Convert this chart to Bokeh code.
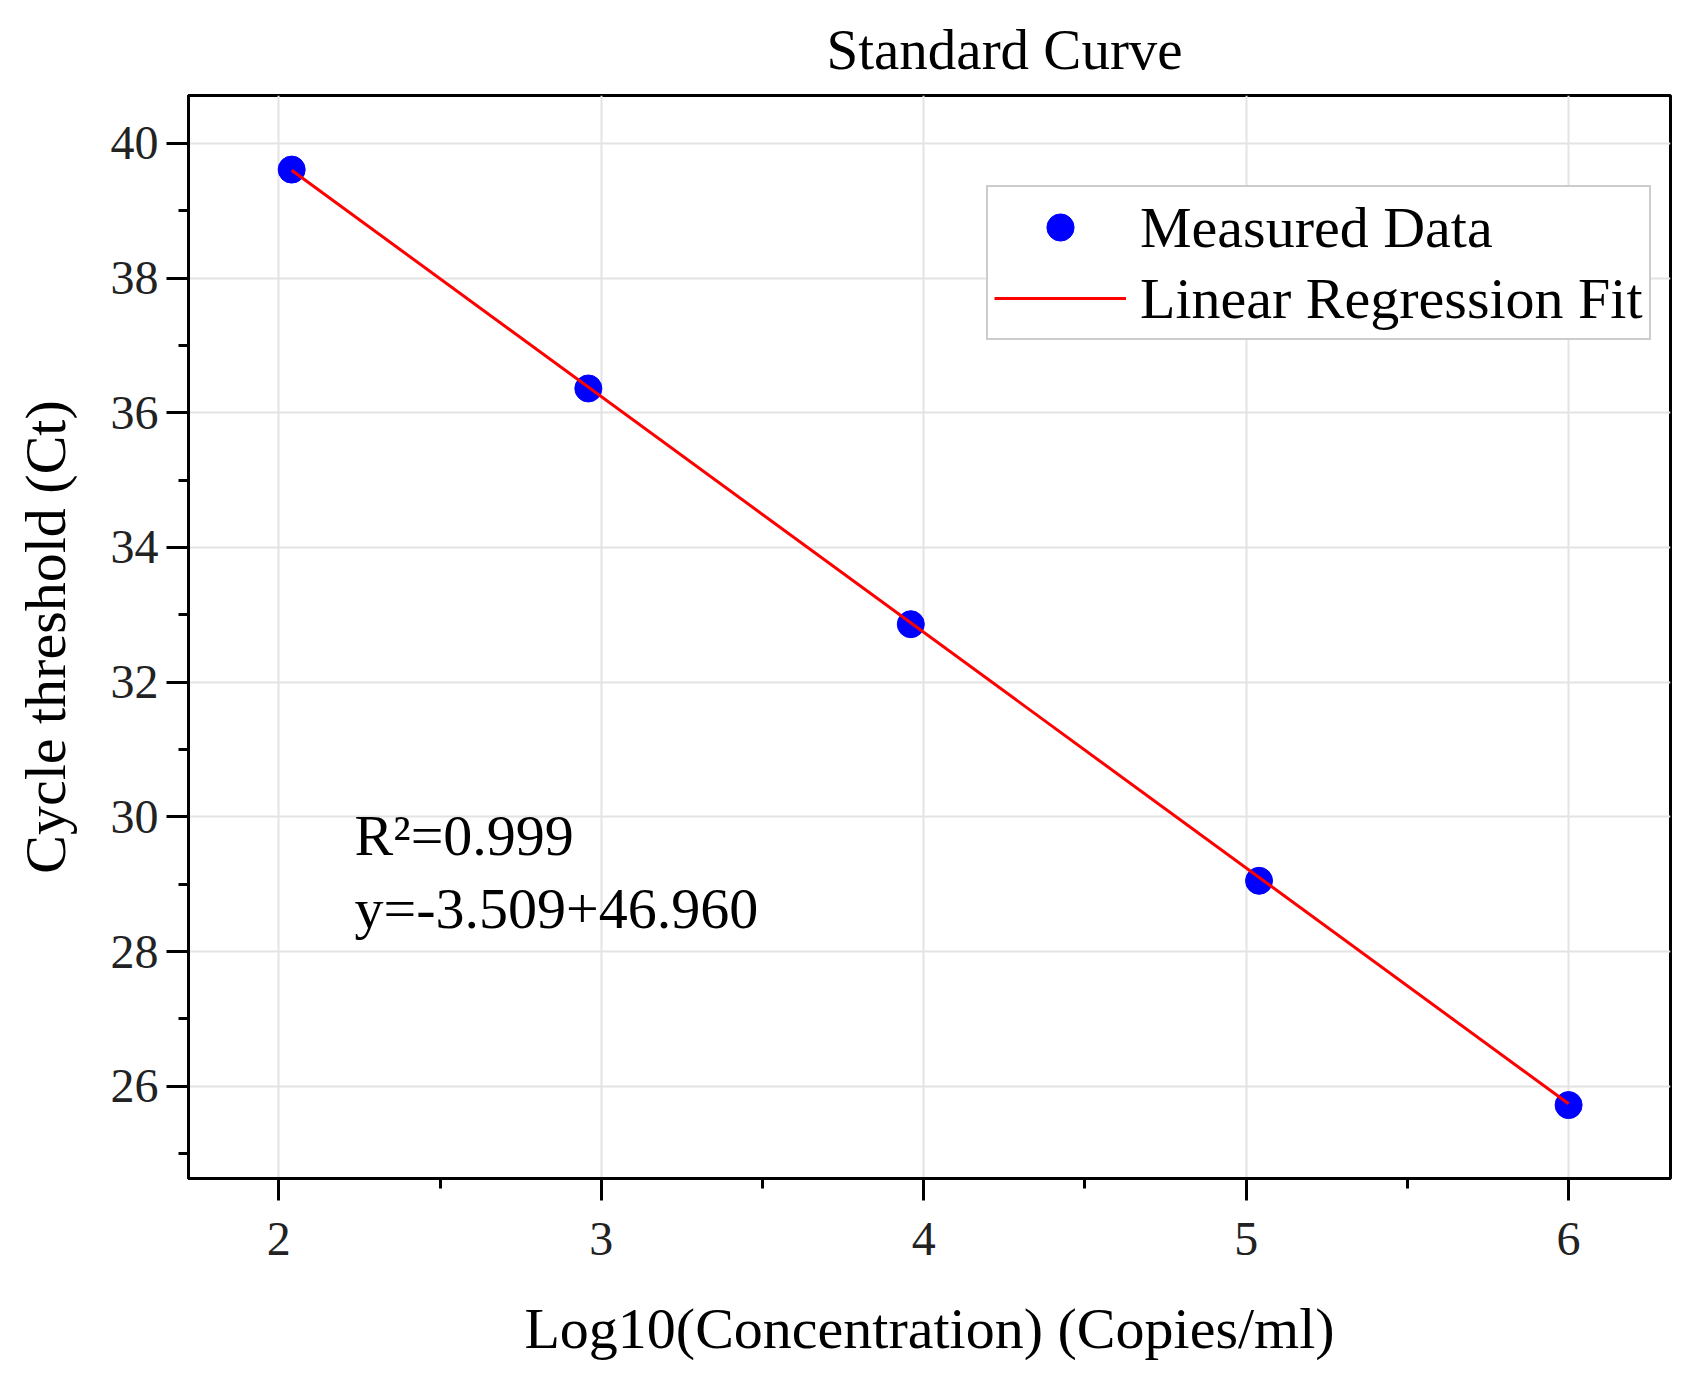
from bokeh.plotting import figure
from bokeh.models import Label, SingleIntervalTicker, Range1d, Legend, LegendItem
from bokeh.embed import file_html
from bokeh.resources import INLINE

# measured standard curve points
log_conc = [2.04, 2.96, 3.96, 5.04, 6.00]
ct_values = [39.61, 36.36, 32.86, 29.05, 25.72]

# regression line end points
fit_x = [2.04, 6.00]
fit_y = [39.60, 25.74]

r2_text = "R²=0.999"
eq_text = "y=-3.509+46.960"

FONT = "Liberation Serif"

p = figure(
    width=1687,
    height=1364,
    x_range=Range1d(1.72, 6.316),
    y_range=Range1d(24.63, 40.71),
    title="Standard Curve",
    toolbar_location=None,
    tools="",
    output_backend="svg",
    min_border_left=188,
    min_border_right=17,
    min_border_top=89,
    min_border_bottom=186,
)

p.title.text_font = FONT
p.title.text_font_size = "57px"
p.title.text_font_style = "normal"
p.title.text_color = "black"
p.title.align = "left"
p.title.offset = 638
p.title.standoff = 30

p.outline_line_color = "black"
p.outline_line_width = 3
p.outline_line_alpha = 1

p.xaxis.ticker = SingleIntervalTicker(interval=1, num_minor_ticks=2)
p.yaxis.ticker = SingleIntervalTicker(interval=2, num_minor_ticks=2)

for ax in (p.xaxis, p.yaxis):
    ax.axis_line_color = "black"
    ax.axis_line_width = 3
    ax.major_tick_line_color = "black"
    ax.major_tick_line_width = 3
    ax.minor_tick_line_color = "black"
    ax.minor_tick_line_width = 3
    ax.major_tick_in = 0
    ax.minor_tick_in = 0
    ax.major_tick_out = 22
    ax.minor_tick_out = 10
    ax.major_label_text_font = FONT
    ax.major_label_text_font_size = "48px"
    ax.major_label_text_color = "#222222"
    ax.axis_label_text_font = FONT
    ax.axis_label_text_font_size = "58px"
    ax.axis_label_text_font_style = "normal"
    ax.axis_label_text_color = "black"

p.xaxis.axis_label = "Log10(Concentration) (Copies/ml)"
p.yaxis.axis_label = "Cycle threshold (Ct)"
p.xaxis.major_label_standoff = 22
p.yaxis.major_label_standoff = 8
p.xaxis.axis_label_standoff = 38
p.yaxis.axis_label_standoff = 30

p.grid.grid_line_color = "#e3e3e3"
p.grid.grid_line_width = 2

dots = p.scatter(log_conc, ct_values, size=27, fill_color="#0000ff",
                 line_color="#0000ff")
fit = p.line(fit_x, fit_y, line_color="#ff0000", line_width=3)

legend = Legend(
    items=[
        LegendItem(label="Measured Data", renderers=[dots]),
        LegendItem(label="Linear Regression Fit", renderers=[fit]),
    ],
    location=(798, 838),
    label_text_font=FONT,
    label_text_font_size="58px",
    label_text_color="black",
    glyph_width=132,
    glyph_height=68,
    label_height=68,
    label_standoff=14,
    padding=6,
    spacing=3,
    margin=0,
    border_line_color="#999999",
    border_line_width=2,
    background_fill_alpha=1,
)
p.add_layout(legend)

p.add_layout(Label(x=2.235, y=29.73, text=r2_text, text_font=FONT,
                   text_font_size="58px", text_color="black",
                   text_baseline="alphabetic"))
p.add_layout(Label(x=2.235, y=28.64, text=eq_text, text_font=FONT,
                   text_font_size="58px", text_color="black",
                   text_baseline="alphabetic"))

open("out.html", "w").write(file_html(p, INLINE))
